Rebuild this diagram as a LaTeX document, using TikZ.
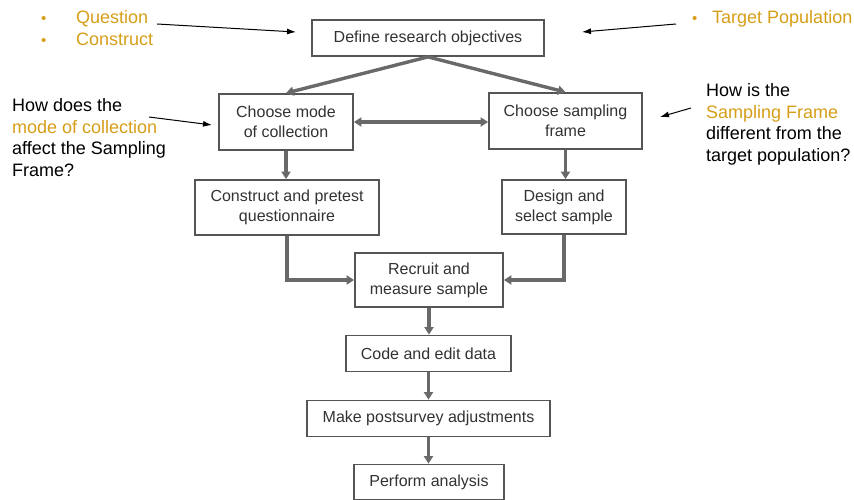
\documentclass[tikz,border=0pt]{standalone}
\usepackage{fontspec}
\setmainfont{Liberation Sans}
\usetikzlibrary{arrows.meta,calc}
\definecolor{gold}{RGB}{214,158,24}
\definecolor{boxline}{RGB}{85,85,85}
\definecolor{flow}{RGB}{105,105,105}
\definecolor{boxtext}{RGB}{50,50,50}

\begin{document}
\begin{tikzpicture}[x=1pt,y=-1pt,
  stage/.style={draw=boxline, line width=1.8pt, text=boxtext, align=center,
    inner sep=0pt, font=\fontsize{16}{20}\selectfont},
  flowline/.style={draw=flow, line width=3.4pt,
    -{Triangle[width=9pt,length=7.5pt]}},
  flowboth/.style={draw=flow, line width=3.4pt,
    {Triangle[width=9pt,length=7.5pt]}-{Triangle[width=9pt,length=7.5pt]}},
  note/.style={anchor=base west, inner sep=0pt, font=\fontsize{18}{21.5}\selectfont},
  dot/.style={anchor=base west, inner sep=0pt, text=gold, font=\fontsize{15}{17}\selectfont},
  pointer/.style={draw=black, line width=1pt, -{Latex[length=9pt,width=6pt]}}]

\useasboundingbox (0,0) rectangle (854,500);

% survey process stages
\node[stage, minimum width=232pt, minimum height=36pt] (def) at (428,38) {Define research objectives};
\node[stage, minimum width=134pt, minimum height=56pt] (mode) at (286,122) {Choose mode\\of collection};
\node[stage, minimum width=153pt, minimum height=56pt] (frame) at (565.5,121) {Choose sampling\\frame};
\node[stage, minimum width=184pt, minimum height=55pt] (cons) at (287,207.5) {Construct and pretest\\questionnaire};
\node[stage, minimum width=124pt, minimum height=54pt] (design) at (564,207) {Design and\\select sample};
\node[stage, minimum width=148pt, minimum height=54pt] (recruit) at (429,280) {Recruit and\\measure sample};
\node[stage, minimum width=165pt, minimum height=36pt] (code) at (428.5,353.5) {Code and edit data};
\node[stage, minimum width=243pt, minimum height=36pt] (adjust) at (428.5,418.5) {Make postsurvey adjustments};
\node[stage, minimum width=150pt, minimum height=35pt] (perf) at (429,482) {Perform analysis};

% flow between stages
\draw[flowline] (def.south) -- (mode.north);
\draw[flowline] (def.south) -- (frame.north);
\draw[flowboth] (mode.east) -- (frame.west |- mode.east);
\draw[flowline] (mode.south) -- (mode.south |- cons.north);
\draw[flowline] (frame.south) -- (frame.south |- design.north);
\draw[flowline] (cons.south) |- (recruit.west);
\draw[flowline] (design.south) |- (recruit.east);
\draw[flowline] (recruit.south) -- (recruit.south |- code.north);
\draw[flowline] (code.south) -- (code.south |- adjust.north);
\draw[flowline] (adjust.south) -- (adjust.south |- perf.north);

% annotations
\node[dot] (b1) at (41,23.5) {•};
\node[note, text=gold] (q1) at (76,24) {Question};
\node[dot] (b2) at (41,45.5) {•};
\node[note, text=gold] (q2) at (76,46) {Construct};

\node[dot] (b3) at (692,23.5) {•};
\node[note, text=gold] (tp) at (712,24) {Target Population};

\node[note] (l1) at (12,112) {How does the};
\node[note, text=gold] (l2) at (12,133.5) {mode of collection};
\node[note] (l3) at (12,155) {affect the Sampling};
\node[note] (l4) at (12,176.5) {Frame?};

\node[note] (r1) at (706,97) {How is the};
\node[note, text=gold] (r2) at (706,118.5) {Sampling Frame};
\node[note] (r3) at (706,140) {different from the};
\node[note] (r4) at (706,161.5) {target population?};

% pointer arrows from annotations
\coordinate (p1s) at (157,24);  \coordinate (p1e) at (296,32);
\coordinate (p2s) at (676,24);  \coordinate (p2e) at (582,32);
\coordinate (p3s) at (149,117); \coordinate (p3e) at (212,125);
\coordinate (p4s) at (691,108); \coordinate (p4e) at (660,117);
\draw[pointer] (p1s) -- (p1e);
\draw[pointer] (p2s) -- (p2e);
\draw[pointer] (p3s) -- (p3e);
\draw[pointer] (p4s) -- (p4e);
\end{tikzpicture}
\end{document}
